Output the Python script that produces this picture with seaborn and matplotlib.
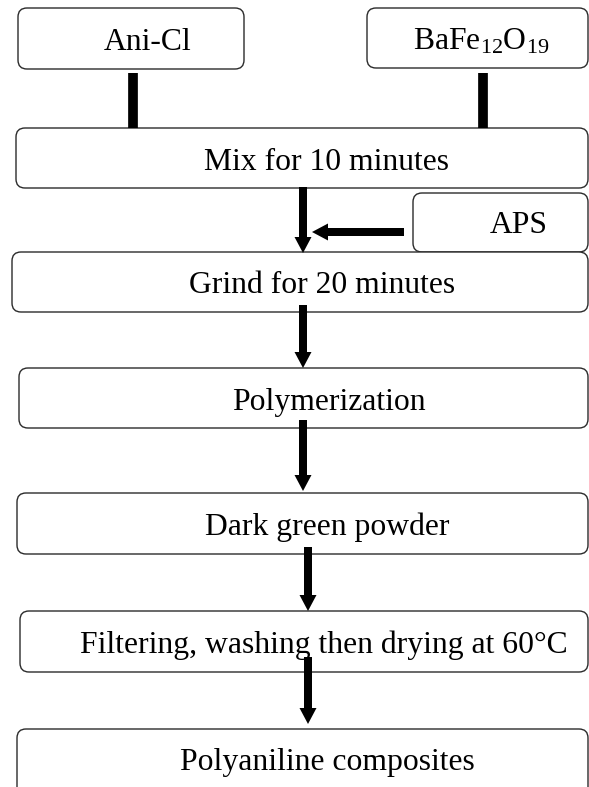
import matplotlib
matplotlib.use("Agg")
import matplotlib.pyplot as plt
from matplotlib.patches import FancyBboxPatch
import seaborn as sns

# flowchart content
step_labels = ["Ani-Cl", r"BaFe$_{12}$O$_{19}$", "Mix for 10 minutes", "APS",
               "Grind for 20 minutes", "Polymerization", "Dark green powder",
               "Filtering, washing then drying at 60°C", "Polyaniline composites"]

# layout (pixels): left, top, right, bottom of each box
box_left = [18, 367, 16, 413, 12, 19, 17, 20, 17]
box_top = [8, 8, 128, 193, 252, 368, 493, 611, 729]
box_right = [244, 588, 588, 588, 588, 588, 588, 588, 588]
box_bottom = [69, 68, 188, 252, 312, 428, 554, 672, 796]
text_x = [148, 481, 326, 519, 322, 329, 327, 324, 327]
text_base = [50, 50, 170, 233, 293, 410, 535, 653, 770]

# arrows: (x0, y0, x1, y1, has_head)
arrows = [
    (133, 73, 133, 128, False),
    (483, 73, 483, 128, False),
    (303, 187, 303, 253, True),
    (404, 232, 312, 232, True),
    (303, 305, 303, 368, True),
    (303, 420, 303, 491, True),
    (308, 547, 308, 611, True),
    (308, 657, 308, 724, True),
]

sns.set_theme(style="white")
plt.rcParams['font.family'] = ['Liberation Serif', 'DejaVu Serif']
plt.rcParams['mathtext.fontset'] = 'custom'
plt.rcParams['mathtext.rm'] = 'Liberation Serif'
plt.rcParams['mathtext.default'] = 'regular'

fig = plt.figure(figsize=(5.89, 7.87), dpi=100)
ax = fig.add_axes([0, 0, 1, 1])
ax.set_xlim(0, 589)
ax.set_ylim(787, 0)
ax.axis('off')

for i, lab in enumerate(step_labels):
    w = box_right[i] - box_left[i]
    h = box_bottom[i] - box_top[i]
    ax.add_patch(FancyBboxPatch((box_left[i], box_top[i]), w, h,
                                boxstyle="round,pad=0,rounding_size=9",
                                fc='white', ec='#2b2b2b', lw=1.0, zorder=1))
    ax.text(text_x[i], text_base[i], lab, ha='center', va='baseline',
            fontsize=22.8, color='black', zorder=2)

for x0, y0, x1, y1, head in arrows:
    if head:
        ax.arrow(x0, y0, x1 - x0, y1 - y0, width=8, head_width=17,
                 head_length=16, length_includes_head=True,
                 fc='black', ec='black', lw=0, zorder=3)
    else:
        ax.plot([x0, x1], [y0, y1], color='black', lw=7,
                solid_capstyle='butt', zorder=3)

fig.savefig("out.png", dpi=100)
